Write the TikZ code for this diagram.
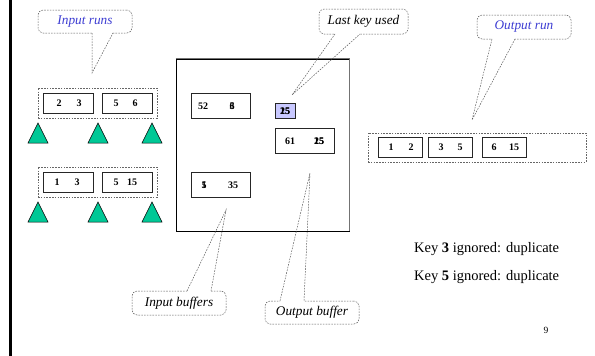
\documentclass[tikz,border=0pt]{standalone}
\usepackage{fontspec}
\setmainfont{Liberation Serif}
\definecolor{runteal}{RGB}{0,200,150}
\definecolor{noteblue}{RGB}{60,60,210}
\definecolor{lastkey}{RGB}{200,200,255}
\begin{document}
\begin{tikzpicture}[x=1pt,y=-1pt,
  cell/.style={draw=black!85, line width=0.8pt, inner sep=0, minimum height=20pt},
  group/.style={draw=black!60, line width=0.5pt, dash pattern=on 1.6pt off 1.2pt},
  tri/.style={draw=black, fill=runteal, line width=0.5pt},
  num/.style={font=\fontsize{10}{12}\selectfont\bfseries, inner sep=0},
  note/.style={draw=black!65, line width=0.5pt, dash pattern=on 1.6pt off 1.2pt,
    rounded corners=5pt, font=\fontsize{13.3}{15}\selectfont\itshape, inner sep=0},
  tail/.style={draw=black!65, line width=0.5pt, dash pattern=on 1.6pt off 1.2pt},
  gap/.style={draw=white, line width=1.6pt},
  keytext/.style={font=\fontsize{14.5}{17}\selectfont, anchor=west, inner sep=0}]
\useasboundingbox (0,0) rectangle (595,356);

% page edge rule
\fill[black] (9,0) rectangle (12,356);

% ---------- input runs ----------
\node[group, minimum width=119pt, minimum height=30pt] (run1) at (97.5,103) {};
\node[cell, minimum width=50pt] (r1a) at (68,103.5) {};
\node[cell, minimum width=50pt] (r1b) at (127,103.5) {};
\node[num] at (59,103.5) {2};  \node[num] at (79,103.5) {3};
\node[num] at (116,103.5) {5}; \node[num] at (135,103.5) {6};

\node[group, minimum width=119pt, minimum height=30pt] (run2) at (97.5,182) {};
\node[cell, minimum width=50pt] (r2a) at (68,182) {};
\node[cell, minimum width=50pt] (r2b) at (127,182) {};
\node[num] at (57,182) {1};  \node[num] at (77,182) {3};
\node[num] at (116,182) {5}; \node[num] at (132,182) {15};

% tape drives
\foreach \cx in {38,98,152} {
  \draw[tri] (\cx-10,143) -- (\cx,123) -- (\cx+10,143) -- cycle;
  \draw[tri] (\cx-10,222) -- (\cx,202) -- (\cx+10,222) -- cycle;
}

% ---------- main memory ----------
\node[draw=black, line width=0.8pt, minimum width=173pt, minimum height=172pt, inner sep=0] (mem) at (262.5,145) {};
\draw[black!55, line width=0.9pt] (mem.north west) -- (mem.north east) -- (mem.south east);

\node[cell, minimum width=59pt, minimum height=25pt] (bufA) at (220.5,105.5) {};
\node[num] at (203,106) {52};
\node[num] at (232,106) {3};
\node[num] at (232,106) {6};

\node[cell, minimum width=59pt, minimum height=25pt] (bufB) at (220.5,184.5) {};
\node[num] at (204,185) {1};
\node[num] at (204,185) {5};
\node[num] at (233,185) {35};

\node[cell, fill=lastkey, minimum width=20pt, minimum height=15pt] (last) at (285,110.5) {};
\node[num] at (285,111) {25};
\node[num] at (285,111) {15};

\node[cell, minimum width=59pt, minimum height=25pt] (obuf) at (304.5,140.5) {};
\node[num] at (290,141) {61};
\node[num] at (319,141) {25};
\node[num] at (319,141) {15};

% ---------- output run ----------
\node[group, minimum width=218pt, minimum height=29pt] (orun) at (477,147.5) {};
\node[cell, minimum width=44pt] (o1) at (400,147) {};
\node[cell, minimum width=44pt] (o2) at (450,147) {};
\node[cell, minimum width=44pt] (o3) at (504,147) {};
\node[num] at (391,147) {1}; \node[num] at (411,147) {2};
\node[num] at (441,147) {3}; \node[num] at (460,147) {5};
\node[num] at (494,147) {6}; \node[num] at (514,147) {15};

% ---------- callouts ----------
\node[note, text=noteblue, minimum width=94pt, minimum height=23pt] (cin) at (85,21.5) {Input runs};
\coordinate (cin-a) at (92,33); \coordinate (cin-b) at (113,33); \coordinate (cin-t) at (92,73);
\draw[gap] (cin-a) -- (cin-b);
\draw[tail] (cin-a) -- (cin-t) -- (cin-b);

\node[note, minimum width=89pt, minimum height=25pt] (ckey) at (363.5,21.5) {Last key used};
\coordinate (ckey-a) at (335,34); \coordinate (ckey-b) at (360,34); \coordinate (ckey-t) at (292,95);
\draw[gap] (ckey-a) -- (ckey-b);
\draw[tail] (ckey-a) -- (ckey-t) -- (ckey-b);

\node[note, text=noteblue, minimum width=94pt, minimum height=24pt] (cout) at (524,27) {Output run};
\coordinate (cout-a) at (492,39); \coordinate (cout-b) at (515,39); \coordinate (cout-t) at (472,120);
\draw[gap] (cout-a) -- (cout-b);
\draw[tail] (cout-a) -- (cout-t) -- (cout-b);

\node[note, minimum width=94pt, minimum height=24pt] (cbuf) at (179,303) {Input buffers};
\coordinate (cbuf-a) at (187,291); \coordinate (cbuf-b) at (211,291); \coordinate (cbuf-t) at (226,210);
\draw[gap] (cbuf-a) -- (cbuf-b);
\draw[tail] (cbuf-a) -- (cbuf-t) -- (cbuf-b);

\node[note, minimum width=94pt, minimum height=23pt] (cobuf) at (312,312.5) {Output buffer};
\coordinate (cobuf-a) at (280,301); \coordinate (cobuf-b) at (304,301); \coordinate (cobuf-t) at (310,173);
\draw[gap] (cobuf-a) -- (cobuf-b);
\draw[tail] (cobuf-a) -- (cobuf-t) -- (cobuf-b);

% ---------- remarks ----------
\node[keytext] (dup3) at (414,249) {Key \textbf{3} ignored: duplicate};
\node[keytext] (dup5) at (414,277) {Key \textbf{5} ignored: duplicate};
\node[font=\fontsize{9.5}{11}\selectfont, inner sep=0] (pageno) at (546,330) {9};
\end{tikzpicture}
\end{document}
